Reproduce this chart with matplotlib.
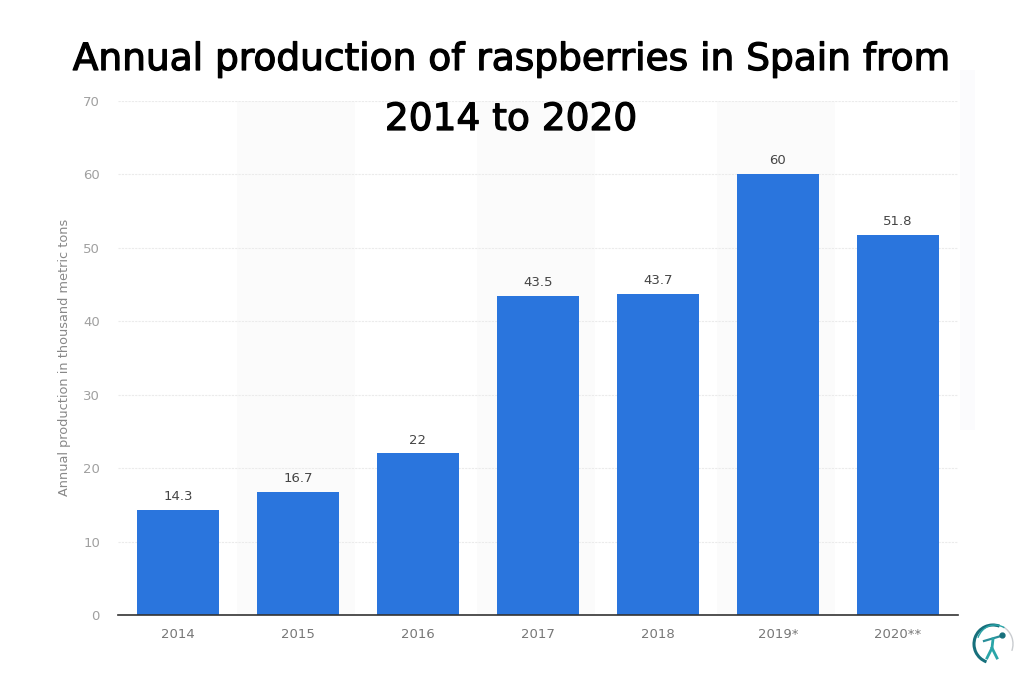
import matplotlib
matplotlib.use('Agg')
import matplotlib.pyplot as plt
import matplotlib.patheffects as pe
from matplotlib.patches import Arc, Rectangle

years = ['2014', '2015', '2016', '2017', '2018', '2019*', '2020**']
production = [14.3, 16.7, 22, 43.5, 43.7, 60, 51.8]
value_labels = ['14.3', '16.7', '22', '43.5', '43.7', '60', '51.8']
y_ticks = [0, 10, 20, 30, 40, 50, 60, 70]
title_lines = ['Annual production of raspberries in Spain from', '2014 to 2020']
y_label = 'Annual production in thousand metric tons'

W, H = 1024, 675

fig = plt.figure(figsize=(W / 100, H / 100), dpi=100, facecolor='white')

# pale strip at the right edge of the screenshot
fig.add_artist(Rectangle((960 / W, 1 - 430 / H), 15 / W, 360 / H, transform=fig.transFigure,
                         facecolor='#fbfbfd', edgecolor='none'))

ax = fig.add_axes([118 / W, 1 - 615 / H, 840 / W, 514 / H])
xs = list(range(len(years)))

# alternating bands behind the bars
for i in xs:
    if i % 2 == 1:
        ax.axvspan(i - 0.51, i + 0.475, facecolor='#fbfbfb', edgecolor='none', zorder=0)

ax.bar(xs, production, width=0.685, color='#2a75dd', zorder=3)
for x, v, lab in zip(xs, production, value_labels):
    ax.annotate(lab, (x, v), xytext=(0, 5), textcoords='offset points', ha='center', va='bottom',
                fontsize=9.5, color='#454545', zorder=4)

ax.set_xlim(-0.5, 6.5)
ax.set_ylim(0, 70)
ax.set_xticks(xs)
ax.set_xticklabels(years, fontsize=9.5, color='#777777')
ax.set_yticks(y_ticks)
ax.set_yticklabels([str(t) for t in y_ticks], fontsize=9.5, color='#a0a0a0')
ax.tick_params(axis='both', length=0)
ax.tick_params(axis='x', pad=9)
ax.tick_params(axis='y', pad=13)
ax.grid(axis='y', color='#ebebeb', linewidth=0.8, linestyle=(0, (2, 1)), zorder=1)
ax.set_axisbelow(True)
ax.patch.set_alpha(0)
for side in ['top', 'right', 'left']:
    ax.spines[side].set_visible(False)
ax.spines['bottom'].set_color('#333333')
ax.spines['bottom'].set_linewidth(1.2)
ax.spines['bottom'].set_zorder(5)

fig.text(65 / W, 1 - 357 / H, y_label, rotation=90, ha='center', va='center',
         fontsize=9.3, color='#888888')

# handwritten title, nearest installed font thickened with a round stroke
thick = [pe.withStroke(linewidth=0.9, foreground='black')]
fig.text(511 / W, 1 - 60 / H, title_lines[0], ha='center', va='center',
         fontsize=27, color='black', path_effects=thick)
fig.text(511 / W, 1 - 120 / H, title_lines[1], ha='center', va='center',
         fontsize=27, color='black', path_effects=thick)

# small logo, bottom right
logo = fig.add_axes([965 / W, 1 - 672 / H, 55 / W, 50 / H])
logo.set_xlim(965, 1020)
logo.set_ylim(672, 622)
logo.axis('off')
logo.add_patch(Arc((993, 644), 38, 38, theta1=110, theta2=290, color='#17707c', lw=2.2))
logo.add_patch(Arc((993, 644), 40, 40, theta1=-60, theta2=20, color='#c9ccd0', lw=1))
logo.add_patch(Arc((995, 644), 36, 38, theta1=200, theta2=300, color='#2aa5a8', lw=1))
logo.plot([984, 1001], [641, 636], color='#2a8f9a', lw=1.6)
logo.plot([993, 992, 987], [639, 648, 658], color='#2aa5a8', lw=2)
logo.plot([992, 997], [648, 658], color='#2aa5a8', lw=2)
logo.plot([1002], [635], 'o', color='#17707c', ms=3.5)

fig.savefig('out.png', dpi=100)
